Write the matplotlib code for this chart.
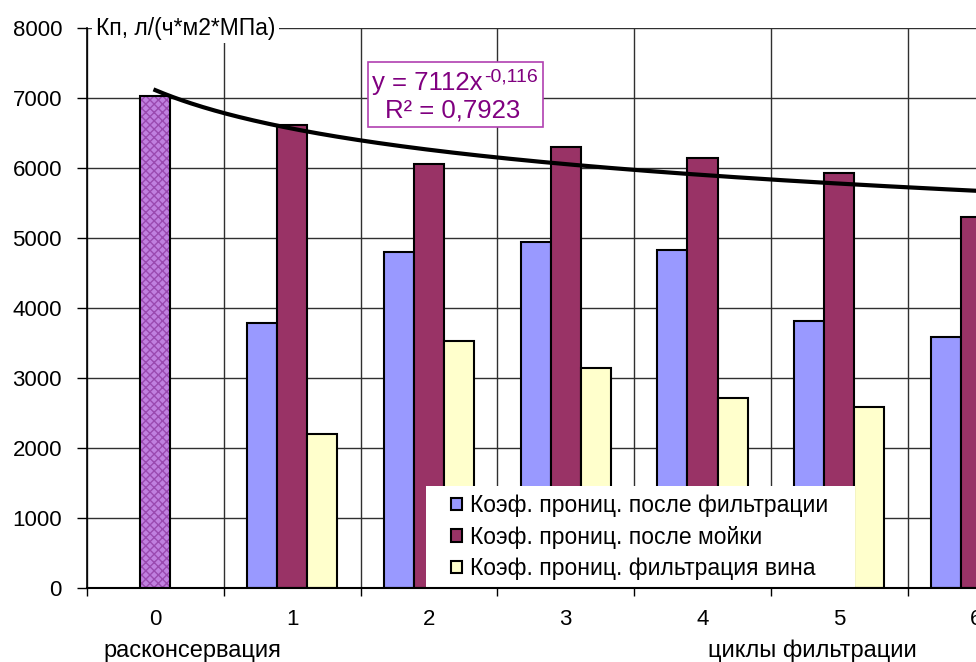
import numpy as np
import matplotlib
matplotlib.use("Agg")
from matplotlib import pyplot as plt
from matplotlib.patches import Rectangle

plt.rcParams['font.family'] = ['Liberation Sans', 'DejaVu Sans']

# data
cycles = [0, 1, 2, 3, 4, 5, 6]
cycle_labels = ['0', '1', '2', '3', '4', '5', '6']
k_start = 7030                      # расконсервация (cycle 0)
k_filtr = [3780, 4800, 4950, 4830, 3810, 3590]   # after filtration, cycles 1..6
k_wash = [6610, 6060, 6300, 6140, 5930, 5300]    # after washing, cycles 1..6
k_wine = [2200, 3530, 3140, 2710, 2590, 2400]    # wine filtration, cycles 1..6
trend_a = 7112
trend_b = -0.116
trend_r2 = '0,7923'

names = ['Коэф. прониц. после фильтрации',
         'Коэф. прониц. после мойки',
         'Коэф. прониц. фильтрация вина']
colors = ['#9999ff', '#993366', '#ffffcc']
purple = '#800080'

fig = plt.figure(figsize=(9.76, 6.62), dpi=100)
ax = fig.add_axes([87/976, 74/662, 889/976, 560/662])

w = 0.22
xc = np.array(cycles[1:])
for i, (vals, col) in enumerate(zip([k_filtr, k_wash, k_wine], colors)):
    ax.bar(xc + (i - 1)*w, vals, width=w, color=col, edgecolor='black',
           linewidth=1.5, label=names[i], zorder=3)

# cycle 0: patterned bar
ax.bar([0], [k_start], width=w, color='#c080e0', edgecolor='#9a4ab0',
       hatch='xxxx', linewidth=0, zorder=3)
ax.bar([0], [k_start], width=w, fill=False, edgecolor='black', linewidth=1.5, zorder=4)

# power trendline y = a*x^b, x = point number starting at 1
xs = np.linspace(0, 6.5, 300)
ax.plot(xs, trend_a*(xs + 1)**trend_b, color='black', lw=3, zorder=5)

# trendline label box
ax.add_patch(Rectangle((0.316, 0.823), 0.197, 0.116, transform=ax.transAxes,
                       fc='white', ec='#b040b0', lw=1.2, zorder=6))
ax.text(0.4454, 0.9018, 'y = %dx' % trend_a, transform=ax.transAxes, ha='right',
        va='center', color=purple, fontsize=18.5, zorder=7)
ax.text(0.4466, 0.9125, str(trend_b).replace('.', ','), transform=ax.transAxes,
        ha='left', va='center', color=purple, fontsize=14, zorder=7)
ax.text(0.4111, 0.8518, 'R² = %s' % trend_r2, transform=ax.transAxes, ha='center',
        va='center', color=purple, fontsize=18.5, zorder=7)

ax.set_yticks(np.arange(0, 8001, 1000))
ax.set_xticks(cycles)
ax.set_xticklabels(cycle_labels)
ax.set_xticks(np.arange(-0.5, 6.6, 1), minor=True)
ax.set_xlim(-0.5, 6.0)
ax.set_ylim(0, 8000)
ax.tick_params(axis='x', which='major', length=0, labelsize=16, pad=15)
ax.tick_params(axis='x', which='minor', length=6, width=1, direction='out')
ax.tick_params(axis='y', length=7, width=1, labelsize=16, pad=11)
ax.grid(axis='y', which='major', color='#303030', lw=1, zorder=0)
ax.grid(axis='x', which='minor', color='#303030', lw=1, zorder=0)
for s in ['top', 'right']:
    ax.spines[s].set_visible(False)
ax.spines['left'].set_linewidth(1.2)
ax.spines['bottom'].set_linewidth(1.5)
ax.spines['bottom'].set_zorder(9)

ax.text(0.01, 1.0, 'Кп, л/(ч*м2*МПа)', transform=ax.transAxes, ha='left', va='center',
        fontsize=16.5, zorder=7,
        bbox=dict(boxstyle='square,pad=0.15', fc='white', ec='none'))

# legend: white panel over the bars, entries on top
ax.add_patch(Rectangle((0.381, 0.0), 0.483, 0.182, transform=ax.transAxes,
                       fc='white', ec='none', zorder=8))
leg = ax.legend(loc='upper left', bbox_to_anchor=(0.410, 0.168), borderaxespad=0,
                fontsize=16.5, frameon=False, handlelength=0.45, handleheight=0.45,
                handletextpad=0.35, labelspacing=0.38, borderpad=0)
for h in leg.legend_handles:
    h.set_linewidth(1.5)
leg.set_zorder(9)

fig.text(192/976, 1 - 651/662, 'расконсервация', ha='center', va='center', fontsize=17)
fig.text(812/976, 1 - 651/662, 'циклы фильтрации', ha='center', va='center', fontsize=17)

fig.savefig('out.png', dpi=100)
